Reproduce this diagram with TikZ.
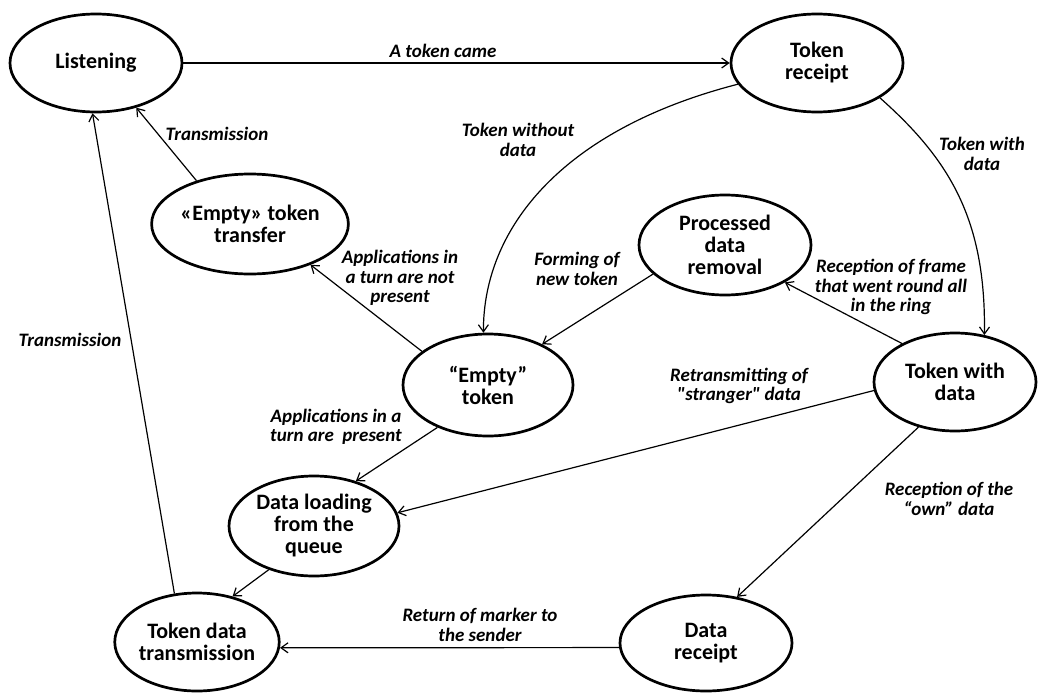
\documentclass[tikz,border=0pt]{standalone}
\usepackage{fontspec}
\setmainfont{Carlito}[Ligatures=TeXOff]
\usetikzlibrary{shapes.geometric,arrows.meta}
\begin{document}
\begin{tikzpicture}[x=1pt,y=-1pt,
  state/.style={draw, ellipse, line width=2.7pt, inner sep=0pt, align=center,
    font=\fontsize{22}{22}\selectfont\bfseries},
  lbl/.style={align=center, inner sep=0pt,
    font=\fontsize{19}{19.5}\selectfont\bfseries\itshape},
  edge/.style={line width=1.2pt, -{Straight Barb[length=7pt,width=10pt]}}]
\useasboundingbox (0,0) rectangle (1038,693);

\node[state, minimum width=172pt, minimum height=98pt] (L)  at (96,63)  {Listening};
\node[state, minimum width=172pt, minimum height=98pt] (TR) at (817,63) {Token\\receipt};
\node[state, minimum width=172pt, minimum height=100pt] (ET) at (250,224) {«Empty» token\\transfer};
\node[state, minimum width=172pt, minimum height=100pt] (PD) at (725,245) {Processed\\data\\removal};
\node[state, minimum width=170pt, minimum height=102pt] (E)  at (488,385) {“Empty”\\token};
\node[state, minimum width=162pt, minimum height=98pt] (TD) at (955,382) {Token with\\data};
\node[state, minimum width=170pt, minimum height=100pt] (DL) at (314,526) {Data loading\\from the\\queue};
\node[state, minimum width=152pt, minimum height=98pt] (TT) at (197,642) {Token data\\transmission};
\node[state, minimum width=172pt, minimum height=96pt] (DR) at (706,643) {Data\\receipt};

\draw[edge] (L) -- (TR);
\draw[edge] (ET.141) -- (L.-48);
\draw[edge] (TT.115) -- (L.-94);
\draw[edge] (E.153) -- (ET.-34);
\draw[edge] (TR.-165.5) .. controls (560,130) and (483,230) .. (E.95.5);
\draw[edge] (TR.-29) .. controls (950,160) and (986,220) .. (TD.58);
\draw[edge] (PD.-158) -- (E.37);
\draw[edge] (TD.144) -- (PD.-32);
\draw[edge] (TD.-174) -- (DL.9);
\draw[edge] (E.-140) -- (DL.47);
\draw[edge] (DL.-136) -- (TT.52);
\draw[edge] (DR.-177) -- (TT.-4.5);
\draw[edge] (TD.-129) -- (DR.56);

\node[lbl] (l1)  at (443,51)  {A token came};
\node[lbl] (l2)  at (217,134) {Transmission};
\node[lbl] (l3)  at (70,340)  {Transmission};
\node[lbl] (l4)  at (400,278) {Applications in\\a turn are not\\present};
\node[lbl] (l5)  at (518,140) {Token without\\data};
\node[lbl] (l6)  at (982,154) {Token with\\data};
\node[lbl] (l7)  at (577,269) {Forming of\\new token};
\node[lbl] (l8)  at (891,287) {Reception of frame\\that went round all\\in the ring};
\node[lbl] (l9)  at (739,386) {Retransmitting of\\"stranger" data};
\node[lbl] (l10) at (336,427) {Applications in a\\turn are\ \ present};
\node[lbl] (l11) at (480,625) {Return of marker to\\the sender};
\node[lbl] (l12) at (949,499) {Reception of the\\“own” data};
\end{tikzpicture}
\end{document}
